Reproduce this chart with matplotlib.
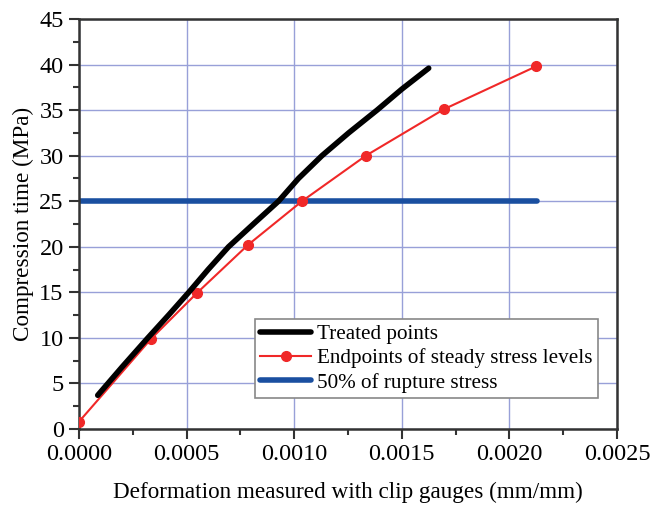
import numpy as np
import matplotlib
matplotlib.use('Agg')
import matplotlib.pyplot as plt
from matplotlib.ticker import MultipleLocator

plt.rcParams['font.family'] = ['Liberation Serif', 'DejaVu Serif']

# ── data ────────────────────────────────────────────────
treated_x = [0.000087, 0.00020, 0.00032, 0.000420, 0.000510, 0.000600, 0.000695,
             0.000815, 0.000927, 0.00102, 0.001129, 0.001253, 0.001385, 0.00150,
             0.001625]
treated_y = [3.7, 6.8, 10.0, 12.6, 15.0, 17.5, 20.0,
             22.6, 25.0, 27.5, 30.0, 32.5, 35.0, 37.3,
             39.6]

endpoint_x = [0.0, 0.000335, 0.000547, 0.000785, 0.001036, 0.001333, 0.001696, 0.002124]
endpoint_y = [0.8, 9.9, 14.9, 20.2, 25.0, 30.0, 35.1, 39.8]

rupture_x = [0.0, 0.002128]
rupture_y = [25.0, 25.0]

fig = plt.figure(figsize=(6.52, 5.07), dpi=100)
ax = fig.add_axes([79 / 652, 1 - 429 / 507, 538 / 652, 410 / 507])

ax.plot(treated_x, treated_y, color='black', lw=4, solid_capstyle='round',
        solid_joinstyle='round', label='Treated points', zorder=4)
ax.plot(endpoint_x, endpoint_y, color='#f02828', lw=1.5, marker='o', ms=7,
        label='Endpoints of steady stress levels', zorder=3)
ax.plot(rupture_x, rupture_y, color='#1a4fa0', lw=4, solid_capstyle='round',
        label='50% of rupture stress', zorder=2)

ax.set_xlim(0, 0.0025)
ax.set_ylim(0, 45)
ax.xaxis.set_major_locator(MultipleLocator(0.0005))
ax.xaxis.set_minor_locator(MultipleLocator(0.00025))
ax.yaxis.set_major_locator(MultipleLocator(5))
ax.yaxis.set_minor_locator(MultipleLocator(2.5))
ax.xaxis.set_major_formatter(plt.FuncFormatter(lambda v, p: f'{v:.4f}'))

ax.grid(True, which='major', color='#98a0d8', lw=1)
ax.set_axisbelow(True)
ax.tick_params(which='major', direction='out', length=7, width=1.5,
               labelsize=17.5, color='#333333', pad=4)
ax.tick_params(which='minor', direction='out', length=4, width=1.5,
               color='#333333')
for s in ax.spines.values():
    s.set_linewidth(1.8)
    s.set_color('#333333')

ax.set_xlabel('Deformation measured with clip gauges (mm/mm)', fontsize=16.7, labelpad=12)
ax.set_ylabel('Compression time (MPa)', fontsize=16.7, labelpad=4)

leg = ax.legend(loc='lower left', bbox_to_anchor=(0.327, 0.076), borderaxespad=0,
                fontsize=15.2, fancybox=False, edgecolor='#888888', framealpha=1,
                handlelength=2.4, handletextpad=0.3, labelspacing=0.2,
                borderpad=0.25)
leg.get_frame().set_linewidth(1.2)

fig.savefig('out.png', dpi=100)
